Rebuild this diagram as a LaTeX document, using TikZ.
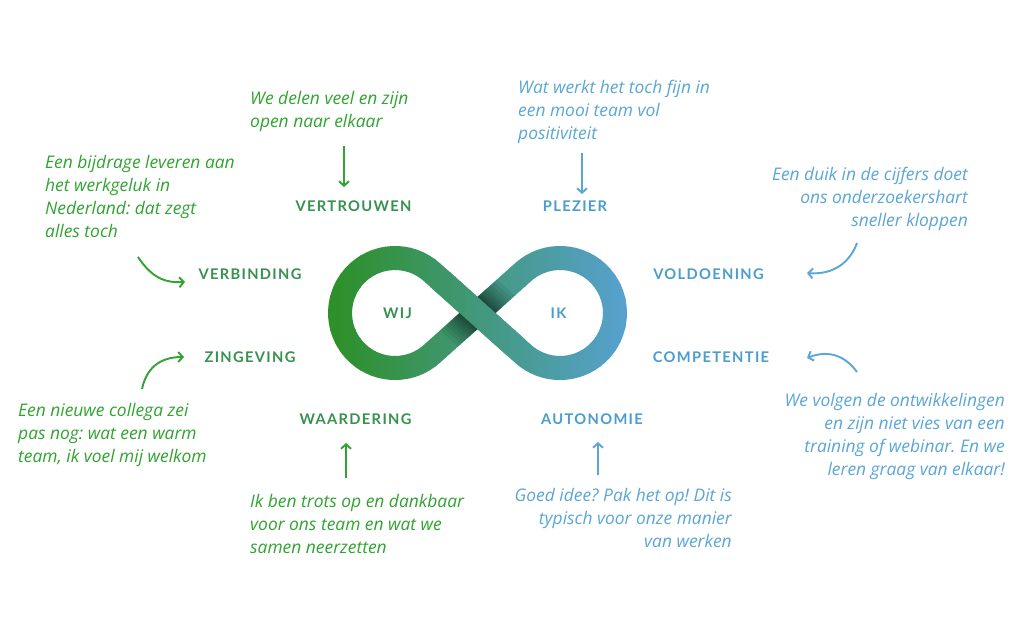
\documentclass[tikz,border=0pt]{standalone}
\usepackage{fontspec}
\setmainfont{Lato}
\newfontfamily\labelfont[LetterSpace=9]{Lato}
\newfontfamily\quotefont{Open Sans}
\frenchspacing
\usetikzlibrary{arrows.meta,calc}
\definecolor{infG}{RGB}{44,143,34}
\definecolor{infB}{RGB}{88,162,214}
\definecolor{labG}{RGB}{55,145,80}
\definecolor{labB}{RGB}{75,157,205}
\definecolor{quoG}{RGB}{48,163,48}
\definecolor{quoB}{RGB}{90,166,214}
\tikzset{
  x=1pt,y=1pt,
  quote/.style={inner sep=0pt,font=\quotefont\fontsize{17.4}{23}\selectfont\itshape\frenchspacing},
  qg/.style={quote,text=quoG},
  qb/.style={quote,text=quoB},
  lab/.style={inner sep=0pt,font=\labelfont\bfseries\fontsize{14.7}{16}\selectfont},
  lg/.style={lab,text=labG},
  lb/.style={lab,text=labB},
  arr/.style={line width=1.9pt,-{Straight Barb[length=4.5pt,width=10pt,line width=1.9pt]}},
  ag/.style={arr,draw=quoG},
  ab/.style={arr,draw=quoB},
}
\begin{document}
\begin{tikzpicture}
\useasboundingbox (0,0) rectangle (1024,-623);
\fill[white] (0,0) rectangle (1024,-623);

% ---- infinity symbol ----
\coordinate (C) at (477.5,-313);
\coordinate (TR) at (523.3,-272.0);
\coordinate (BR) at (523.3,-354.0);
\coordinate (TL) at (431.7,-272.0);
\coordinate (BL) at (431.7,-354.0);
\foreach \i in {0,...,63}{
  \pgfmathsetmacro\p{100*\i/63}
  \colorlet{cc}{infB!\p!infG}
  \begin{scope}
    \clip (320+5*\i,-230) rectangle (325.6+5*\i,-400);
    \draw[cc,line width=24pt] (C) -- (TR) arc[start angle=131.8,end angle=-131.8,radius=55]
      -- (C) -- (TL) arc[start angle=48.2,end angle=311.8,radius=55] -- cycle;
  \end{scope}
}
% shadow on the under band
\begin{scope}
  \path[clip] ($(BL)+(-8.2,8.9)$) -- ($(TR)+(-8.2,8.9)$) -- ($(TR)+(8.2,-8.9)$) -- ($(BL)+(8.2,-8.9)$) -- cycle;
  \foreach \w in {76,68,60,53,47,42,37,33,29,26}{
    \draw[black,opacity=0.065,line width=\w pt] ($(C)!1.6!(TL)$) -- ($(C)!1.6!(BR)$);
  }
\end{scope}
% over band
\foreach \i in {0,...,63}{
  \pgfmathsetmacro\p{100*\i/63}
  \colorlet{cc}{infB!\p!infG}
  \begin{scope}
    \clip (320+5*\i,-230) rectangle (325.6+5*\i,-400);
    \draw[cc,line width=24pt] ($(C)!0.85!(TL)$) -- ($(C)!0.85!(BR)$);
  \end{scope}
}
\node[lg] (wij) at (397.5,-313) {WIJ};
\node[lb] (ik) at (558.5,-313) {IK};

% ---- labels ----
\node[lg] (vertrouwen) at (353.5,-206) {VERTROUWEN};
\node[lb] (plezier) at (575,-206) {PLEZIER};
\node[lg] (verbinding) at (250,-274) {VERBINDING};
\node[lg] (zingeving) at (250,-357.5) {ZINGEVING};
\node[lg] (waardering) at (355.5,-419) {WAARDERING};
\node[lb] (autonomie) at (592,-419) {AUTONOMIE};
\node[lb] (voldoening) at (708.5,-274) {VOLDOENING};
\node[lb] (competentie) at (711,-357.5) {COMPETENTIE};

% ---- quotes ----
\node[qg,anchor=north west,align=left] (q1) at (250,-91) {We delen veel en zijn\\open naar elkaar};
\node[qb,anchor=north west,align=left] (q2) at (518,-80) {Wat werkt het toch fijn in\\een mooi team vol\\positiviteit};
\node[qg,anchor=north west,align=left] (q3) at (45,-155.5) {Een bijdrage leveren aan\\het werkgeluk in\\Nederland: dat zegt\\alles toch};
\node[qg,anchor=north west,align=left] (q4) at (18,-403) {Een nieuwe collega zei\\pas nog: wat een warm\\team, ik voel mij welkom};
\node[qg,anchor=north west,align=left] (q5) at (250,-494) {Ik ben trots op en dankbaar\\voor ons team en wat we\\samen neerzetten};
\node[qb,anchor=north east,align=right] (q6) at (732,-488) {Goed idee? Pak het op! Dit is\\typisch voor onze manier\\van werken};
\node[qb,anchor=north east,align=right] (q7) at (968,-167) {Een duik in de cijfers doet\\ons onderzoekershart\\sneller kloppen};
\node[qb,anchor=north east,align=right] (q8) at (1005,-393) {We volgen de ontwikkelingen\\en zijn niet vies van een\\training of webinar. En we\\leren graag van elkaar!};

% ---- arrows ----
\coordinate (a1s) at (344,-146); \coordinate (a1e) at (344,-187);
\draw[ag] (a1s) -- (a1e);
\coordinate (a2s) at (582,-153); \coordinate (a2e) at (582,-194);
\draw[ab] (a2s) -- (a2e);
\coordinate (a3s) at (346,-478); \coordinate (a3e) at (346,-443);
\draw[ag] (a3s) -- (a3e);
\coordinate (a4s) at (598,-475); \coordinate (a4e) at (598,-442);
\draw[ab] (a4s) -- (a4e);
\coordinate (a5s) at (138,-257); \coordinate (a5e) at (185,-282);
\draw[ag] (a5s) .. controls (152,-278) and (165,-283) .. (a5e);
\coordinate (a6s) at (142,-389); \coordinate (a6e) at (184,-357);
\draw[ag] (a6s) .. controls (146,-370) and (158,-357) .. (a6e);
\coordinate (a7s) at (857,-243); \coordinate (a7e) at (807,-273);
\draw[ab] (a7s) .. controls (850,-262) and (834,-275) .. (a7e);
\coordinate (a8s) at (857,-372); \coordinate (a8e) at (807,-358);
\draw[ab] (a8s) .. controls (846,-357) and (830,-349) .. (a8e);
\end{tikzpicture}
\end{document}
